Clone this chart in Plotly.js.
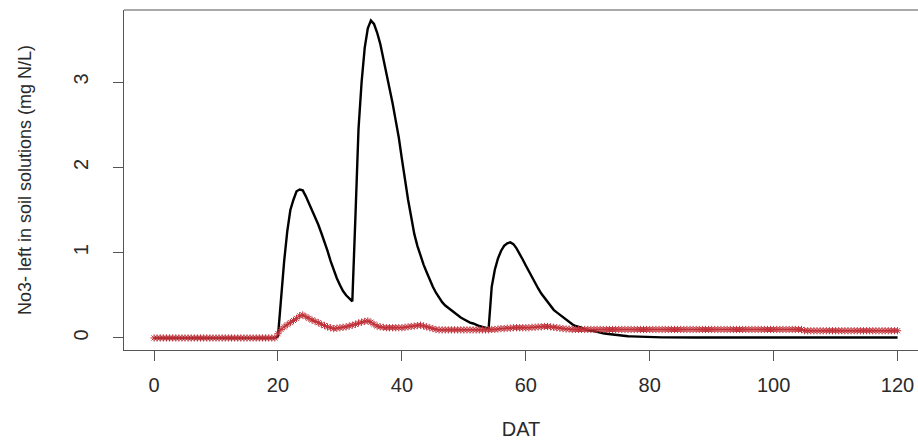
<!DOCTYPE html>
<html>
<head>
<meta charset="utf-8">
<script src="https://cdn.plot.ly/plotly-3.0.1.min.js"></script>
<style>html,body{margin:0;padding:0;background:#fff;}#chart{width:918px;height:440px;}</style>
</head>
<body>
<div id="chart"></div>
<script>
// Days after transplanting (DAT), half-day steps
const DAT = [
0,0.5,1,1.5,2,2.5,3,3.5,4,4.5,5,5.5,6,6.5,7,7.5,8,8.5,9,9.5,
10,10.5,11,11.5,12,12.5,13,13.5,14,14.5,15,15.5,16,16.5,17,17.5,18,18.5,19,19.5,
20,20.5,21,21.5,22,22.5,23,23.5,24,24.5,25,25.5,26,26.5,27,27.5,28,28.5,29,29.5,
30,30.5,31,31.5,32,32.5,33,33.5,34,34.5,35,35.5,36,36.5,37,37.5,38,38.5,39,39.5,
40,40.5,41,41.5,42,42.5,43,43.5,44,44.5,45,45.5,46,46.5,47,47.5,48,48.5,49,49.5,
50,50.5,51,51.5,52,52.5,53,53.5,54,54.5,55,55.5,56,56.5,57,57.5,58,58.5,59,59.5,
60,60.5,61,61.5,62,62.5,63,63.5,64,64.5,65,65.5,66,66.5,67,67.5,68,68.5,69,69.5,
70,70.5,71,71.5,72,72.5,73,73.5,74,74.5,75,75.5,76,76.5,77,77.5,78,78.5,79,79.5,
80,80.5,81,81.5,82,82.5,83,83.5,84,84.5,85,85.5,86,86.5,87,87.5,88,88.5,89,89.5,
90,90.5,91,91.5,92,92.5,93,93.5,94,94.5,95,95.5,96,96.5,97,97.5,98,98.5,99,99.5,
100,100.5,101,101.5,102,102.5,103,103.5,104,104.5,105,105.5,106,106.5,107,107.5,108,108.5,109,109.5,
110,110.5,111,111.5,112,112.5,113,113.5,114,114.5,115,115.5,116,116.5,117,117.5,118,118.5,119,119.5,
120];

// Black curve: NO3- left in soil solution (mg N/L)
const no3Black = [
0,0,0,0,0,0,0,0,0,0, 0,0,0,0,0,0,0,0,0,0,
0,0,0,0,0,0,0,0,0,0, 0,0,0,0,0,0,0,0,0,0,
0.02,0.5,0.9,1.25,1.5,1.62,1.72,1.74,1.73,1.66,
1.58,1.5,1.42,1.33,1.23,1.13,1.02,0.9,0.79,0.7,
0.62,0.55,0.5,0.46,0.43,1.42,2.45,3.0,3.4,3.63,
3.72,3.68,3.58,3.45,3.28,3.08,2.9,2.75,2.55,2.35,
2.1,1.85,1.62,1.42,1.22,1.08,0.96,0.86,0.77,0.68,
0.6,0.53,0.47,0.42,0.38,0.35,0.32,0.29,0.26,0.24,
0.22,0.2,0.18,0.17,0.15,0.14,0.13,0.12,0.11,0.6,
0.8,0.93,1.02,1.08,1.11,1.12,1.1,1.05,0.99,0.92,
0.85,0.78,0.71,0.64,0.58,0.52,0.47,0.42,0.37,0.33,
0.3,0.27,0.24,0.21,0.18,0.16,0.14,0.13,0.12,0.1,
0.09,0.085,0.08,0.07,0.06,0.055,0.05,0.045,0.04,0.035,
0.03,0.027,0.024,0.021,0.019,0.017,0.015,0.013,0.012,0.011,
0.01,0.009,0.008,0.008,0.007,0.007,0.006,0.006,0.006,0.005,
0.005,0.005,0.005,0.005,0.005,0.005,0.005,0.005,0.005,0.005,
0.005,0.005,0.005,0.005,0.005,0.005,0.005,0.005,0.005,0.005,
0.005,0.005,0.005,0.005,0.005,0.005,0.005,0.005,0.005,0.005,
0.005,0.005,0.005,0.005,0.005,0.005,0.005,0.005,0.005,0.005,
0.005,0.005,0.005,0.005,0.005,0.005,0.005,0.005,0.005,0.005,
0.005,0.005,0.005,0.005,0.005,0.005,0.005,0.005,0.005,0.005,
0.005,0.005,0.005,0.005,0.005,0.005,0.005,0.005,0.005,0.005,
0.005];

// Red curve with asterisk markers
const no3Red = [
0,0,0,0,0,0,0,0,0,0, 0,0,0,0,0,0,0,0,0,0,
0,0,0,0,0,0,0,0,0,0, 0,0,0,0,0,0,0,0,0,0,
0.05,0.1,0.13,0.155,0.18,0.205,0.23,0.26,0.27,0.25,
0.23,0.21,0.195,0.18,0.16,0.145,0.13,0.12,0.11,0.115,
0.12,0.125,0.13,0.14,0.15,0.16,0.175,0.185,0.195,0.2,
0.185,0.16,0.14,0.13,0.125,0.12,0.12,0.12,0.12,0.12,
0.12,0.125,0.13,0.135,0.14,0.145,0.15,0.14,0.13,0.12,
0.11,0.1,0.095,0.095,0.095,0.095,0.095,0.095,0.095,0.095,
0.095,0.095,0.095,0.095,0.095,0.095,0.095,0.095,0.095,0.1,
0.1,0.105,0.11,0.11,0.115,0.115,0.12,0.12,0.12,0.12,
0.12,0.12,0.125,0.125,0.13,0.13,0.135,0.135,0.13,0.125,
0.12,0.115,0.11,0.105,0.105,0.1,0.1,0.1,0.1,0.1,
0.1,0.1,0.1,0.1,0.1,0.1,0.1,0.1,0.1,0.1,
0.1,0.1,0.1,0.1,0.1,0.1,0.1,0.1,0.1,0.1,
0.1,0.1,0.1,0.1,0.1,0.1,0.1,0.1,0.1,0.1,
0.1,0.1,0.1,0.1,0.1,0.1,0.1,0.1,0.1,0.1,
0.1,0.1,0.1,0.1,0.1,0.1,0.1,0.1,0.1,0.1,
0.1,0.1,0.1,0.1,0.1,0.1,0.1,0.1,0.1,0.1,
0.1,0.1,0.1,0.1,0.1,0.1,0.1,0.1,0.1,0.1,
0.085,0.085,0.085,0.085,0.085,0.085,0.085,0.085,0.085,0.085,
0.085,0.085,0.085,0.085,0.085,0.085,0.085,0.085,0.085,0.085,
0.085,0.085,0.085,0.085,0.085,0.085,0.085,0.085,0.085,0.085,
0.085];

const xTicks = [0, 20, 40, 60, 80, 100, 120];
const yTicks = [0, 1, 2, 3];
const xLabel = "DAT";
const yLabel = "No3- left in soil solutions (mg N/L)";

const traces = [
  {x: DAT, y: no3Black, type: 'scatter', mode: 'lines',
   line: {color: '#000000', width: 2.4}, hoverinfo: 'skip'},
  {x: DAT, y: no3Red, type: 'scatter', mode: 'lines+markers',
   line: {color: '#c03038', width: 1},
   marker: {symbol: 'asterisk-open', size: 6, color: '#c03038', line: {color: '#c03038', width: 1}},
   hoverinfo: 'skip'}
];

const fam = '"Liberation Sans", Arial, sans-serif';
const tickFont = {family: fam, size: 20, color: '#2a2a2a'};
const yTitleFont = {family: fam, size: 18, color: '#2a2a2a'};
const xTitleFont = {family: fam, size: 20, color: '#2a2a2a'};

const layout = {
  width: 918, height: 440,
  margin: {l: 124, r: 0, t: 10, b: 90, pad: 0},
  paper_bgcolor: '#ffffff', plot_bgcolor: '#ffffff',
  showlegend: false,
  font: tickFont,
  xaxis: {
    range: [-4.85, 123.3], tickvals: xTicks, ticktext: xTicks.map(String),
    showgrid: false, zeroline: false,
    showline: true, linecolor: '#555555', linewidth: 1,
    ticks: 'outside', ticklen: 10, tickcolor: '#555555', tickwidth: 1,
    tickfont: tickFont, ticklabelstandoff: 7,
    title: {text: xLabel, font: xTitleFont, standoff: 27}
  },
  yaxis: {
    range: [-0.141, 3.844], tickvals: yTicks, ticktext: yTicks.map(String),
    showgrid: false, zeroline: false,
    showline: true, linecolor: '#555555', linewidth: 1,
    ticks: 'outside', ticklen: 10, tickcolor: '#555555', tickwidth: 1,
    tickangle: -90, tickfont: tickFont, ticklabelstandoff: 17,
    title: {text: yLabel, font: yTitleFont, standoff: 33}
  },
  shapes: [
    {type: 'line', xref: 'paper', yref: 'paper', x0: 0, x1: 1, y0: 1, y1: 1,
     line: {color: '#555555', width: 1}}
  ]
};

Plotly.newPlot('chart', traces, layout, {displayModeBar: false, staticPlot: true});
</script>
</body>
</html>
